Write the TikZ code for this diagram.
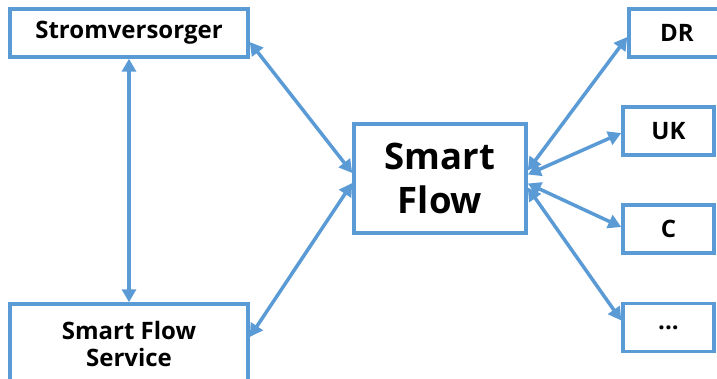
\documentclass[tikz,border=0pt]{standalone}
\usepackage{fontspec}
\setmainfont{Open Sans}
\usetikzlibrary{arrows.meta,calc}
\definecolor{sfblue}{HTML}{5B9BD5}
\tikzset{
  box/.style={draw=sfblue, line width=3.5pt, fill=white, inner sep=0pt, align=center,
    font=\fontsize{24}{27}\selectfont\bfseries},
  bigbox/.style={box, font=\fontsize{36.5}{44}\selectfont\bfseries},
  link/.style={draw=sfblue, line width=3.5pt, {Triangle[length=13pt,width=14pt]}-{Triangle[length=13pt,width=14pt]}}
}
\begin{document}
\begin{tikzpicture}[x=1pt,y=-1pt]
\useasboundingbox (0,0) rectangle (717,379);
\clip (0,0) rectangle (717,379);
\node[box, minimum width=238pt, minimum height=48pt] (strom) at (129,33) {Stromversorger};
\node[box, minimum width=238pt, minimum height=80pt] (serv) at (129,344) {Smart Flow\\Service};
\node[bigbox, minimum width=172pt, minimum height=109pt] (flow) at (440,178.5) {Smart\\Flow};
\node[box, minimum width=96pt, minimum height=48pt] (dr) at (677,33) {DR};
\node[box, minimum width=91pt, minimum height=48pt] (uk) at (668.5,131) {UK};
\node[box, minimum width=91pt, minimum height=48pt] (c) at (668.5,229) {C};
\node[box, minimum width=91pt, minimum height=48pt] (dots) at (668.5,327.5) {...};
\draw[link] (strom.south) -- (serv.north);
\draw[link] ($(strom.east)+(0,9)$) -- ($(flow.west)+(0,-5.5)$);
\draw[link] ($(serv.east)+(0,-7)$) -- ($(flow.west)+(0,4.5)$);
\draw[link] ($(flow.east)+(0,-8)$) -- ($(dr.west)+(0,4)$);
\draw[link] ($(flow.east)+(0,-4)$) -- ($(uk.west)+(0,2)$);
\draw[link] ($(flow.east)+(0,5)$) -- ($(c.west)+(0,-2)$);
\draw[link] ($(flow.east)+(0,9)$) -- ($(dots.west)+(0,-7)$);
\end{tikzpicture}
\end{document}
